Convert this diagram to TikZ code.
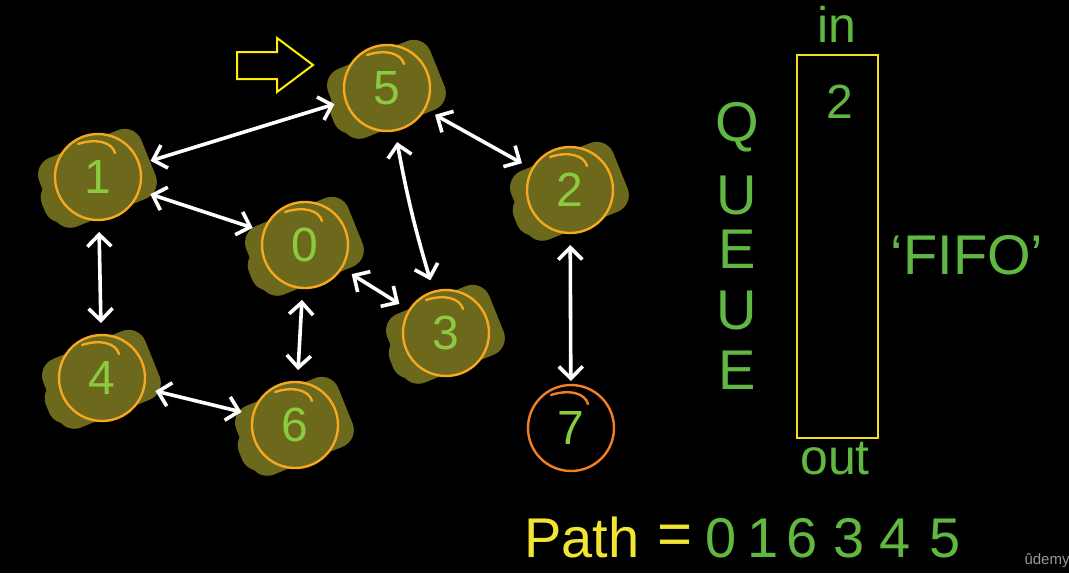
\documentclass[tikz,border=0pt]{standalone}
\usepackage{fontspec}
\setmainfont{Liberation Sans}
\usetikzlibrary{arrows.meta,calc}
\definecolor{olivefill}{RGB}{108,104,28}
\definecolor{ring}{RGB}{245,168,32}
\definecolor{ringseven}{RGB}{242,128,34}
\definecolor{dgreen}{RGB}{140,202,66}
\definecolor{qgreen}{RGB}{96,184,66}
\definecolor{pathyellow}{RGB}{242,228,50}
\definecolor{boxyellow}{RGB}{242,224,30}
\definecolor{arrowyellow}{RGB}{255,240,0}
\tikzset{
  vert/.style={circle, minimum size=43pt, inner sep=0pt, fill=olivefill, draw=ring,
    line width=1.2pt, text=dgreen, font=\fontsize{24}{24}\selectfont, outer sep=6pt},
  dbl/.style={draw=white, line width=1.8pt, line cap=round,
    {Straight Barb[length=6pt,width=12pt]}-{Straight Barb[length=6pt,width=12pt]}},
  scrib/.style={fill=olivefill, rounded corners=9pt},
  hook/.style={line width=1.2pt, line cap=round},
  hand/.style={text=qgreen, inner sep=0pt},
  handbig/.style={hand, font=\fontsize{28}{28}\selectfont},
  pathdigit/.style={handbig, anchor=base},
}
\newcommand\scribble[1]{%
  \fill[scrib, rotate around={22:(#1)}] ($(#1)+(-56,-36)$) rectangle ($(#1)+(54,38)$);
  \fill[scrib, rotate around={22:(#1)}] ($(#1)+(-62,-14)$) rectangle ($(#1)+(40,30)$);}
\newcommand\hookarc[2]{%
  \draw[hook, #2] ($(#1)+(-20,-33)$) .. controls ($(#1)+(-2,-39)$) and ($(#1)+(14,-35)$) .. ($(#1)+(17,-24)$);}
\begin{document}
\begin{tikzpicture}[x=0.5pt,y=-0.5pt]
\fill[black] (0,0) rectangle (1069,573);
\useasboundingbox (0,0) rectangle (1069,573);
% vertex positions
\coordinate (c0) at (305,245);
\coordinate (c1) at (98,177);
\coordinate (c2) at (570,190);
\coordinate (c3) at (446,333);
\coordinate (c4) at (102,378);
\coordinate (c5) at (387,88);
\coordinate (c6) at (295,425);
\coordinate (c7) at (571,428);
\foreach \c in {c0,c1,c2,c3,c4,c5,c6} {\scribble{\c}}
\node[vert] (n0) at (c0) {0};
\node[vert] (n1) at (c1) {1};
\node[vert] (n2) at (c2) {2};
\node[vert] (n3) at (c3) {3};
\node[vert] (n4) at (c4) {4};
\node[vert] (n5) at (c5) {5};
\node[vert] (n6) at (c6) {6};
\node[vert, fill=none, draw=ringseven, outer sep=2pt] (n7) at (c7) {7};
\foreach \c in {c0,c1,c2,c3,c4,c5,c6} {\hookarc{\c}{ring}}
\hookarc{c7}{ringseven}
% edges
\draw[dbl] (n1) -- (n5);
\draw[dbl] (n1) -- (n0);
\draw[dbl] (n5) -- (n2);
\draw[dbl] (n5) to[bend right=3] (n3);
\draw[dbl] (n0) -- (n3);
\draw[dbl] (n1) -- (n4);
\draw[dbl] (n0) -- (n6);
\draw[dbl] (n4) -- (n6);
\draw[dbl] (n2) -- (n7);
% start arrow
\draw[arrowyellow, line width=1pt, line join=miter]
  (237,52) -- (277,52) -- (277,38) -- (313,65) -- (277,92) -- (277,79) -- (237,79) -- cycle;
% queue
\node[draw=boxyellow, line width=1.2pt, minimum width=40.5pt, minimum height=191.5pt,
  inner sep=0pt] (queue) at (837.5,246.5) {};
\node[hand, font=\fontsize{25}{25}\selectfont] (qin) at (837,24) {in};
\node[hand, font=\fontsize{25}{25}\selectfont] (qout) at (835,459) {out};
\node[hand, font=\fontsize{24}{24}\selectfont] (qtwo) at (840,102) {2};
\node[handbig] (lq) at (737,127) {Q};
\node[handbig] (lu1) at (737,196) {U};
\node[handbig] (le1) at (737,249) {E};
\node[handbig] (lu2) at (737,311) {U};
\node[handbig] (le2) at (737,370) {E};
\node[handbig] (fifo) at (967,255) {‘FIFO’};
% path
\node[text=pathyellow, inner sep=0pt, anchor=base, font=\fontsize{28}{28}\selectfont] (path) at (582,557) {Path};
\node[text=pathyellow, inner sep=0pt, font=\fontsize{30}{30}\selectfont] (eq) at (675,540) {=};
\node[pathdigit] (p0) at (721,557) {0};
\node[pathdigit] (p1) at (763,557) {1};
\node[pathdigit] (p6) at (802,557) {6};
\node[pathdigit] (p3) at (849,557) {3};
\node[pathdigit] (p4) at (895,557) {4};
\node[pathdigit] (p5) at (945,557) {5};
\node[text={rgb,255:red,150;green,150;blue,150}, inner sep=0pt, font=\fontsize{7.5}{7.5}\selectfont] (udemy) at (1047,561) {ûdemy};
\end{tikzpicture}
\end{document}
